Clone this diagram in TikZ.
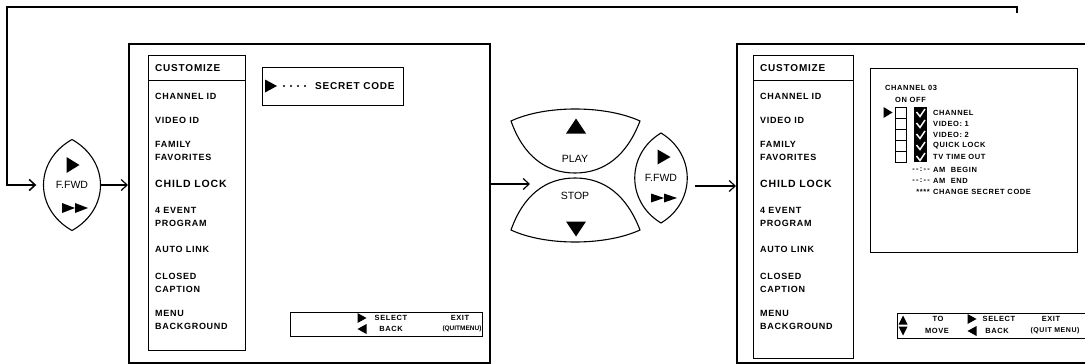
\documentclass[tikz,border=0pt]{standalone}
\usepackage{fontspec}
\setmainfont{Liberation Sans}
\newfontfamily\menufont{Liberation Sans}[LetterSpace=8]
\usetikzlibrary{arrows.meta,calc}

\tikzset{
  pics/rtri/.style 2 args={code={\fill (-#1/2,-#2/2) -- (#1/2,0) -- (-#1/2,#2/2) -- cycle;}},
  pics/ltri/.style 2 args={code={\fill (#1/2,-#2/2) -- (-#1/2,0) -- (#1/2,#2/2) -- cycle;}},
  pics/utri/.style 2 args={code={\fill (-#1/2,#2/2) -- (0,-#2/2) -- (#1/2,#2/2) -- cycle;}},
  pics/dtri/.style 2 args={code={\fill (-#1/2,-#2/2) -- (0,#2/2) -- (#1/2,-#2/2) -- cycle;}},
}

\newcommand\menuitems[1]{%
  \node[item, font=\menufont\bfseries\fontsize{10}{12}\selectfont] (#1-head) at ($(#1.north west)+(7,13)$) {CUSTOMIZE};
  \draw[line width=0.6pt] ($(#1.north west)+(0,25)$) -- ($(#1.north east)+(0,25)$);
  \foreach \txt/\dy/\fs [count=\i] in {CHANNEL ID/41/9, VIDEO ID/65/9, {FAMILY\\FAVORITES}/96/9, CHILD LOCK/129/10.5,
      {4 EVENT\\PROGRAM}/162/9, AUTO LINK/194/9, {CLOSED\\CAPTION}/228/9, {MENU\\BACKGROUND}/265/9}
    \node[item, font=\menufont\bfseries\fontsize{\fs}{13}\selectfont] (#1-\i) at ($(#1.north west)+(7,\dy)$) {\txt};
}

\newcommand\lensoutline[3]{% node, half height, control offset
  \draw[keyline, shift={(#1.center)}] (0,-#2) .. controls (#3,-0.53*#2) and (#3,0.53*#2) .. (0,#2)
    .. controls (-#3,0.53*#2) and (-#3,-0.53*#2) .. cycle;
}

\begin{document}
\begin{tikzpicture}[x=1pt, y=-1pt,
  screen/.style={draw, line width=1.5pt, anchor=north west, inner sep=0pt},
  panel/.style={draw, line width=0.6pt, anchor=north west, inner sep=0pt},
  item/.style={font=\menufont\bfseries\fontsize{9}{13}\selectfont, anchor=west, align=left, inner sep=0pt},
  small/.style={font=\menufont\bfseries\fontsize{7.5}{9}\selectfont, inner sep=0pt},
  chan/.style={font=\menufont\bfseries\fontsize{7.5}{9}\selectfont, inner sep=0pt, anchor=west},
  keyname/.style={font=\fontsize{10.5}{12}\selectfont, inner sep=0pt},
  lens/.style={inner sep=0pt, font=\fontsize{10.5}{12}\selectfont},
  keyline/.style={line width=1.1pt},
  arr/.style={line width=1.2pt, -{Straight Barb[length=6pt,width=11pt]}}]

\useasboundingbox (0,0) rectangle (1085,364);

\node[screen, minimum width=361pt, minimum height=319pt] (box1) at (128,43) {};
\node[screen, minimum width=360pt, minimum height=319pt] (box2) at (736,43) {};
\node[panel, minimum width=97pt, minimum height=295pt] (menu1) at (148,55) {};
\node[panel, minimum width=100pt, minimum height=303pt] (menu2) at (753,55) {};
\menuitems{menu1}
\menuitems{menu2}

\node[panel, minimum width=141pt, minimum height=38pt] (secret) at (262,67) {};
\pic at (271,86) {rtri={12}{13}};
\foreach \k in {0,...,3} \fill (284+7*\k,86) circle (1.2);
\node[item, font=\menufont\bfseries\fontsize{10}{12}\selectfont] (secrettxt) at (315,86) {SECRET CODE};

\node[panel, minimum width=192pt, minimum height=24pt] (help1) at (290,312) {};
\pic at (362,318) {rtri={9}{10}};
\pic at (362,329) {ltri={9}{10}};
\node[small] (select1) at (391,318) {SELECT};
\node[small] (back1) at (391,329) {BACK};
\node[small] (exit1) at (460,318) {EXIT};
\node[small, font=\bfseries\fontsize{6.5}{8}\selectfont] (quit1) at (462,329) {(QUITMENU)};

\node[panel, minimum width=200pt, minimum height=25pt] (help2) at (897,313) {};
\pic at (903,320) {utri={9}{9}};
\pic at (903,331) {dtri={9}{9}};
\node[small] (to2) at (938,319) {TO};
\node[small] (move2) at (937,331) {MOVE};
\pic at (972,319) {rtri={9}{10}};
\pic at (972,331) {ltri={9}{10}};
\node[small] (select2) at (999,319) {SELECT};
\node[small] (back2) at (997,331) {BACK};
\node[small] (exit2) at (1051,319) {EXIT};
\node[small, font=\menufont\bfseries\fontsize{7}{9}\selectfont] (quit2) at (1055,331) {(QUIT MENU)};

\node[panel, minimum width=207pt, minimum height=184pt] (chanbox) at (870,68) {};
\node[chan] (chtitle) at (885,88) {CHANNEL 03};
\node[chan] (onoff) at (895,100) {ON OFF};
\pic at (888,112.5) {rtri={9}{11}};
\foreach \txt [count=\r from 0] in {CHANNEL, VIDEO: 1, VIDEO: 2, QUICK LOCK, TV TIME OUT} {
  \draw[line width=0.5pt] (895,107+11*\r) rectangle ++(11,11);
  \fill (914,107+11*\r) rectangle ++(13,11);
  \draw[white, line width=1.5pt] (916.5,112+11*\r) -- (920,116.5+11*\r) -- (925,109+11*\r);
  \node[chan] (opt\r) at (933,112.5+11*\r) {\txt};
}
\node[chan, anchor=east] (dash1) at (930,170) {-\,-\,:\,-\,-};
\node[chan] (ambegin) at (933,170) {AM~ BEGIN};
\node[chan, anchor=east] (dash2) at (930,181) {-\,-\,:\,-\,-};
\node[chan] (amend) at (933,181) {AM~ END};
\node[chan, anchor=east] (stars) at (930,192) {****};
\node[chan] (change) at (933,192) {CHANGE SECRET CODE};

\node[lens, minimum width=57pt, minimum height=91pt] (ffwd1) at (72,185) {F.FWD};
\lensoutline{ffwd1}{45.5}{38}
\pic at (73,165) {rtri={13}{16}};
\pic at (68.5,208) {rtri={13}{10}};
\pic at (81.5,208) {rtri={13}{10}};

\node[lens, minimum width=53pt, minimum height=90pt] (ffwd2) at (661,178) {F.FWD};
\lensoutline{ffwd2}{45}{35}
\pic at (664,157) {rtri={13}{15}};
\pic at (657.5,198) {rtri={13}{9}};
\pic at (670.5,198) {rtri={13}{9}};

\coordinate (playc) at (575,141);
\coordinate (stopc) at (575,210);
\draw[keyline, shift={(playc)}] (-64,-20) .. controls (-30,-36) and (30,-36) .. (65,-20)
  .. controls (52,14) and (30,32) .. (0,32) .. controls (-30,32) and (-52,14) .. cycle;
\draw[keyline, shift={(stopc)}] (-64,20) .. controls (-52,-14) and (-30,-32) .. (0,-32)
  .. controls (30,-32) and (52,-14) .. (65,20) .. controls (30,36) and (-30,36) .. cycle;
\pic at (576,126) {utri={20}{15}};
\pic at (576,229) {dtri={20}{15}};
\node[keyname] (play) at (575,159) {PLAY};
\node[keyname] (stop) at (575,196) {STOP};

\coordinate (gap) at (530,184);
\coordinate (in2) at (736,186);
\coordinate (loopend) at (1017,13);
\draw[arr, line width=1.5pt] (loopend) |- (7,7) |- ([xshift=-7pt]ffwd1.west);
\draw[arr] (ffwd1.east) -- (ffwd1.east -| box1.west);
\draw[arr] (box1.east |- gap) -- (gap);
\draw[arr] (ffwd2.east |- in2) ++(7,0) -- (in2);
\end{tikzpicture}
\end{document}
